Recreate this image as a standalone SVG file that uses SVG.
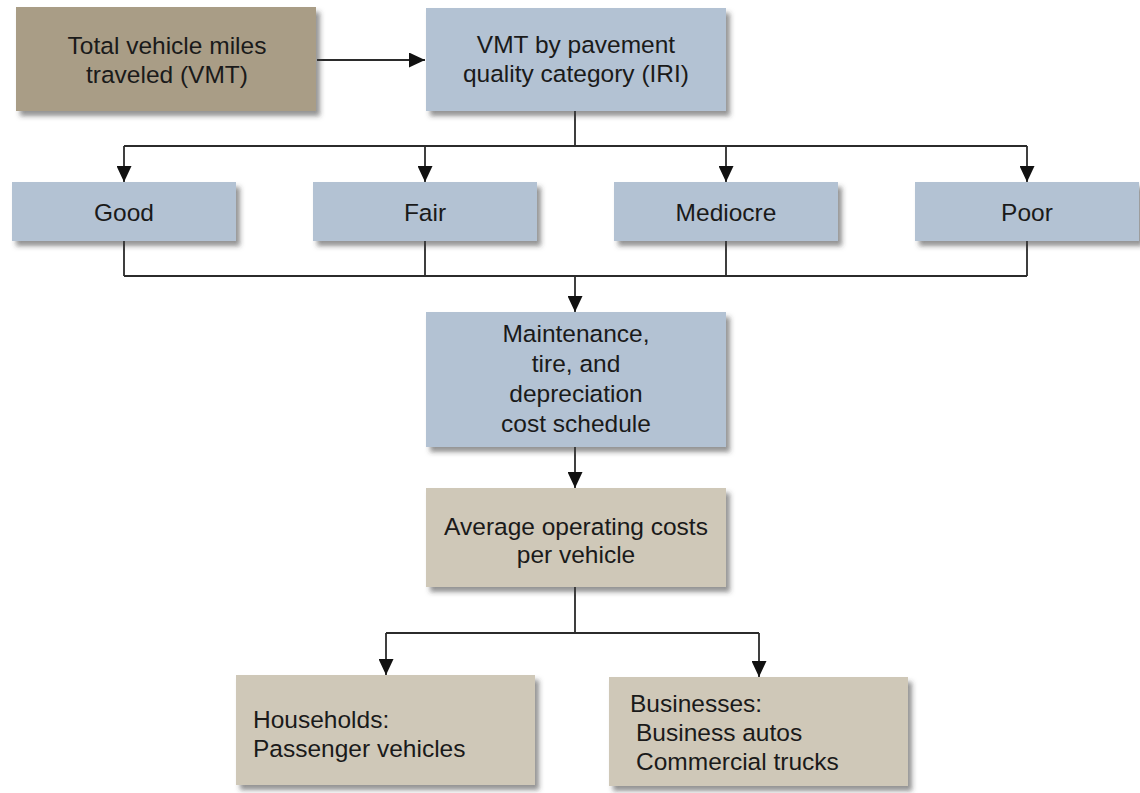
<svg xmlns="http://www.w3.org/2000/svg" width="1140" height="793" viewBox="0 0 1140 793">
<style>
.box{filter:url(#sh);}
.blue{fill:#b3c2d3;}
.tan{fill:#a99d86;}
.beige{fill:#cfc8b8;}
text{font-family:"Liberation Sans",Arial,sans-serif;font-size:24.5px;fill:#1a1a1a;}
.c{text-anchor:middle;}
.ln{fill:none;stroke:#2b2b2b;stroke-width:1.8;}
</style>
<defs>
<filter id="sh" x="-10%" y="-10%" width="130%" height="140%">
<feDropShadow dx="4" dy="5" stdDeviation="2.5" flood-color="#3a3a3a" flood-opacity="0.55"/>
</filter>
<marker id="ah" viewBox="0 0 16 15" refX="16" refY="7.5" markerWidth="16" markerHeight="15" markerUnits="userSpaceOnUse" orient="auto">
<path d="M0,0 L16,7.5 L0,15 z" fill="#111"/>
</marker>
</defs>
<rect width="1140" height="793" fill="#ffffff"/>

<g id="connectors">
<path class="ln" d="M317,60 H425" marker-end="url(#ah)"/>
<path class="ln" d="M575,111 V146 M124,146 H1027"/>
<path class="ln" d="M124,146 V182" marker-end="url(#ah)"/>
<path class="ln" d="M425,146 V182" marker-end="url(#ah)"/>
<path class="ln" d="M726,146 V182" marker-end="url(#ah)"/>
<path class="ln" d="M1027,146 V182" marker-end="url(#ah)"/>
<path class="ln" d="M124,241 V276 M425,241 V276 M726,241 V276 M1027,241 V276 M124,276 H1027"/>
<path class="ln" d="M575,276 V312" marker-end="url(#ah)"/>
<path class="ln" d="M575,447 V488" marker-end="url(#ah)"/>
<path class="ln" d="M575,587 V633 M386,633 H759"/>
<path class="ln" d="M386,633 V675" marker-end="url(#ah)"/>
<path class="ln" d="M759,633 V677" marker-end="url(#ah)"/>
</g>

<g id="total-vmt">
<rect class="box tan" x="16" y="7" width="300" height="104"/>
<text class="c" x="167" y="54">Total vehicle miles</text>
<text class="c" x="167" y="83">traveled (VMT)</text>
</g>
<g id="vmt-by-iri">
<rect class="box blue" x="426" y="8" width="300" height="103"/>
<text class="c" x="576" y="53">VMT by pavement</text>
<text class="c" x="576" y="82">quality category (IRI)</text>
</g>
<g id="good">
<rect class="box blue" x="12" y="182" width="224" height="59"/>
<text class="c" x="124" y="221">Good</text>
</g>
<g id="fair">
<rect class="box blue" x="313" y="182" width="224" height="59"/>
<text class="c" x="425" y="221">Fair</text>
</g>
<g id="mediocre">
<rect class="box blue" x="614" y="182" width="224" height="59"/>
<text class="c" x="726" y="221">Mediocre</text>
</g>
<g id="poor">
<rect class="box blue" x="915" y="182" width="224" height="59"/>
<text class="c" x="1027" y="221">Poor</text>
</g>
<g id="cost-schedule">
<rect class="box blue" x="426" y="312" width="300" height="135"/>
<text class="c" x="576" y="342">Maintenance,</text>
<text class="c" x="576" y="372">tire, and</text>
<text class="c" x="576" y="402">depreciation</text>
<text class="c" x="576" y="432">cost schedule</text>
</g>
<g id="avg-cost">
<rect class="box beige" x="426" y="488" width="300" height="99"/>
<text class="c" x="576" y="535">Average operating costs</text>
<text class="c" x="576" y="563">per vehicle</text>
</g>
<g id="households">
<rect class="box beige" x="236" y="675" width="299" height="110"/>
<text x="253" y="728">Households:</text>
<text x="253" y="757">Passenger vehicles</text>
</g>
<g id="businesses">
<rect class="box beige" x="609" y="677" width="299" height="109"/>
<text x="630" y="712">Businesses:</text>
<text x="636" y="741">Business autos</text>
<text x="636" y="770">Commercial trucks</text>
</g>
</svg>
